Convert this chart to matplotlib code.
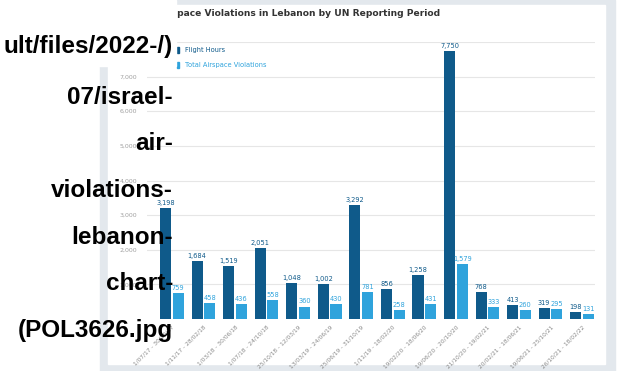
import matplotlib
matplotlib.use('Agg')
import numpy as np
import matplotlib.pyplot as plt
from matplotlib.patches import Rectangle

# 데이터
periods = ['1/07/17 - 30/10/17', '1/11/17 - 28/02/18', '1/03/18 - 30/06/18',
           '1/07/18 - 24/10/18', '25/10/18 - 12/03/19', '13/03/19 - 24/06/19',
           '25/06/19 - 31/10/19', '1/11/19 - 18/02/20', '19/02/20 - 18/06/20',
           '19/06/20 - 20/10/20', '21/10/20 - 19/02/21', '20/02/21 - 18/06/21',
           '19/06/21 - 25/10/21', '26/10/21 - 18/02/22']
flight_hours = [3198, 1684, 1519, 2051, 1048, 1002, 3292, 856, 1258, 7750, 768, 413, 319, 198]
violations = [759, 458, 436, 558, 360, 430, 781, 258, 431, 1579, 333, 260, 295, 131]
yticks = [1000, 2000, 3000, 4000, 5000, 6000, 7000, 8000]
alt_lines = ['ult/files/2022-/)', '07/israel-', 'air-', 'violations-',
             'lebanon-', 'chart-', '(POL3626.jpg']

dark = '#0f5a8a'
light = '#2fa3dc'

W, H = 621, 371
fig = plt.figure(figsize=(W / 100, H / 100), dpi=100)
fig.patch.set_facecolor('white')

def fx(x):
    return x / W

def fy(y):
    return 1 - y / H

# 이미지 프레임 (회색 테두리 + 흰 패널)
fig.patches.append(Rectangle((fx(100), 0), fx(615) - fx(100), 1, transform=fig.transFigure,
                             color='#e3e8ed', zorder=0))
fig.patches.append(Rectangle((fx(108), fy(364)), fx(605) - fx(108), fy(5) - fy(364),
                             transform=fig.transFigure, color='white', zorder=0))

# 막대 그래프
ax = fig.add_axes([fx(147), fy(319), fx(595) - fx(147), fy(42) - fy(319)])
ax.set_zorder(2)
ax.set_facecolor('none')
x = np.arange(len(periods))
bw = 0.35
b1 = ax.bar(x - 0.2, flight_hours, bw, color=dark, zorder=3)
b2 = ax.bar(x + 0.2, violations, bw, color=light, zorder=3)
for r, v in zip(b1, flight_hours):
    ax.text(r.get_x() + r.get_width() / 2, v + 60, f'{v:,}', ha='center', va='bottom',
            fontsize=4.8, color=dark)
for r, v in zip(b2, violations):
    ax.text(r.get_x() + r.get_width() / 2, v + 60, f'{v:,}', ha='center', va='bottom',
            fontsize=4.8, color=light)

ax.set_xlim(-0.79, 13.41)
ax.set_ylim(0, 8000)
ax.set_yticks(yticks)
ax.set_yticklabels([f'{t:,}' for t in yticks])
ax.tick_params(axis='y', length=0, labelsize=4.5, labelcolor='#a0a0a0', pad=7)
ax.set_xticks(x)
ax.set_xticklabels(periods, rotation=45, ha='right', rotation_mode='anchor')
ax.tick_params(axis='x', length=0, labelsize=4.2, labelcolor='#8a8a8a', pad=4)
ax.grid(axis='y', color='#e6e6e6', linewidth=0.8, zorder=0)
for s in ax.spines.values():
    s.set_visible(False)

# 제목 / 범례
fig.text(fx(440), fy(13), 'Airspace Violations in Lebanon by UN Reporting Period',
         ha='right', va='center', fontsize=6.6, color='#333333', fontweight='bold', zorder=3)
fig.patches.append(Rectangle((fx(177), fy(53)), 2 / W, 6 / H, transform=fig.transFigure,
                             color=dark, zorder=5))
fig.patches.append(Rectangle((fx(177), fy(68)), 2 / W, 6 / H, transform=fig.transFigure,
                             color=light, zorder=5))
fig.text(fx(185), fy(50), 'Flight Hours', ha='left', va='center', fontsize=4.8, color=dark,
         zorder=5)
fig.text(fx(185), fy(65), 'Total Airspace Violations', ha='left', va='center',
         fontsize=4.8, color=light, zorder=5)

# 깨진 이미지 대체 텍스트 (흰 배경 상자)
fig.patches.append(Rectangle((0, fy(66)), fx(176), 1 - fy(66), transform=fig.transFigure,
                             color='white', zorder=6))
ys = [47, 97, 143.5, 190, 237, 283.5, 330]
for t, yy in zip(alt_lines, ys):
    fig.text(fx(173), fy(yy), t, ha='right', va='center', fontsize=17.5,
             fontweight='bold', family='Liberation Sans', color='black', zorder=7)

fig.savefig('out.png', dpi=100)
